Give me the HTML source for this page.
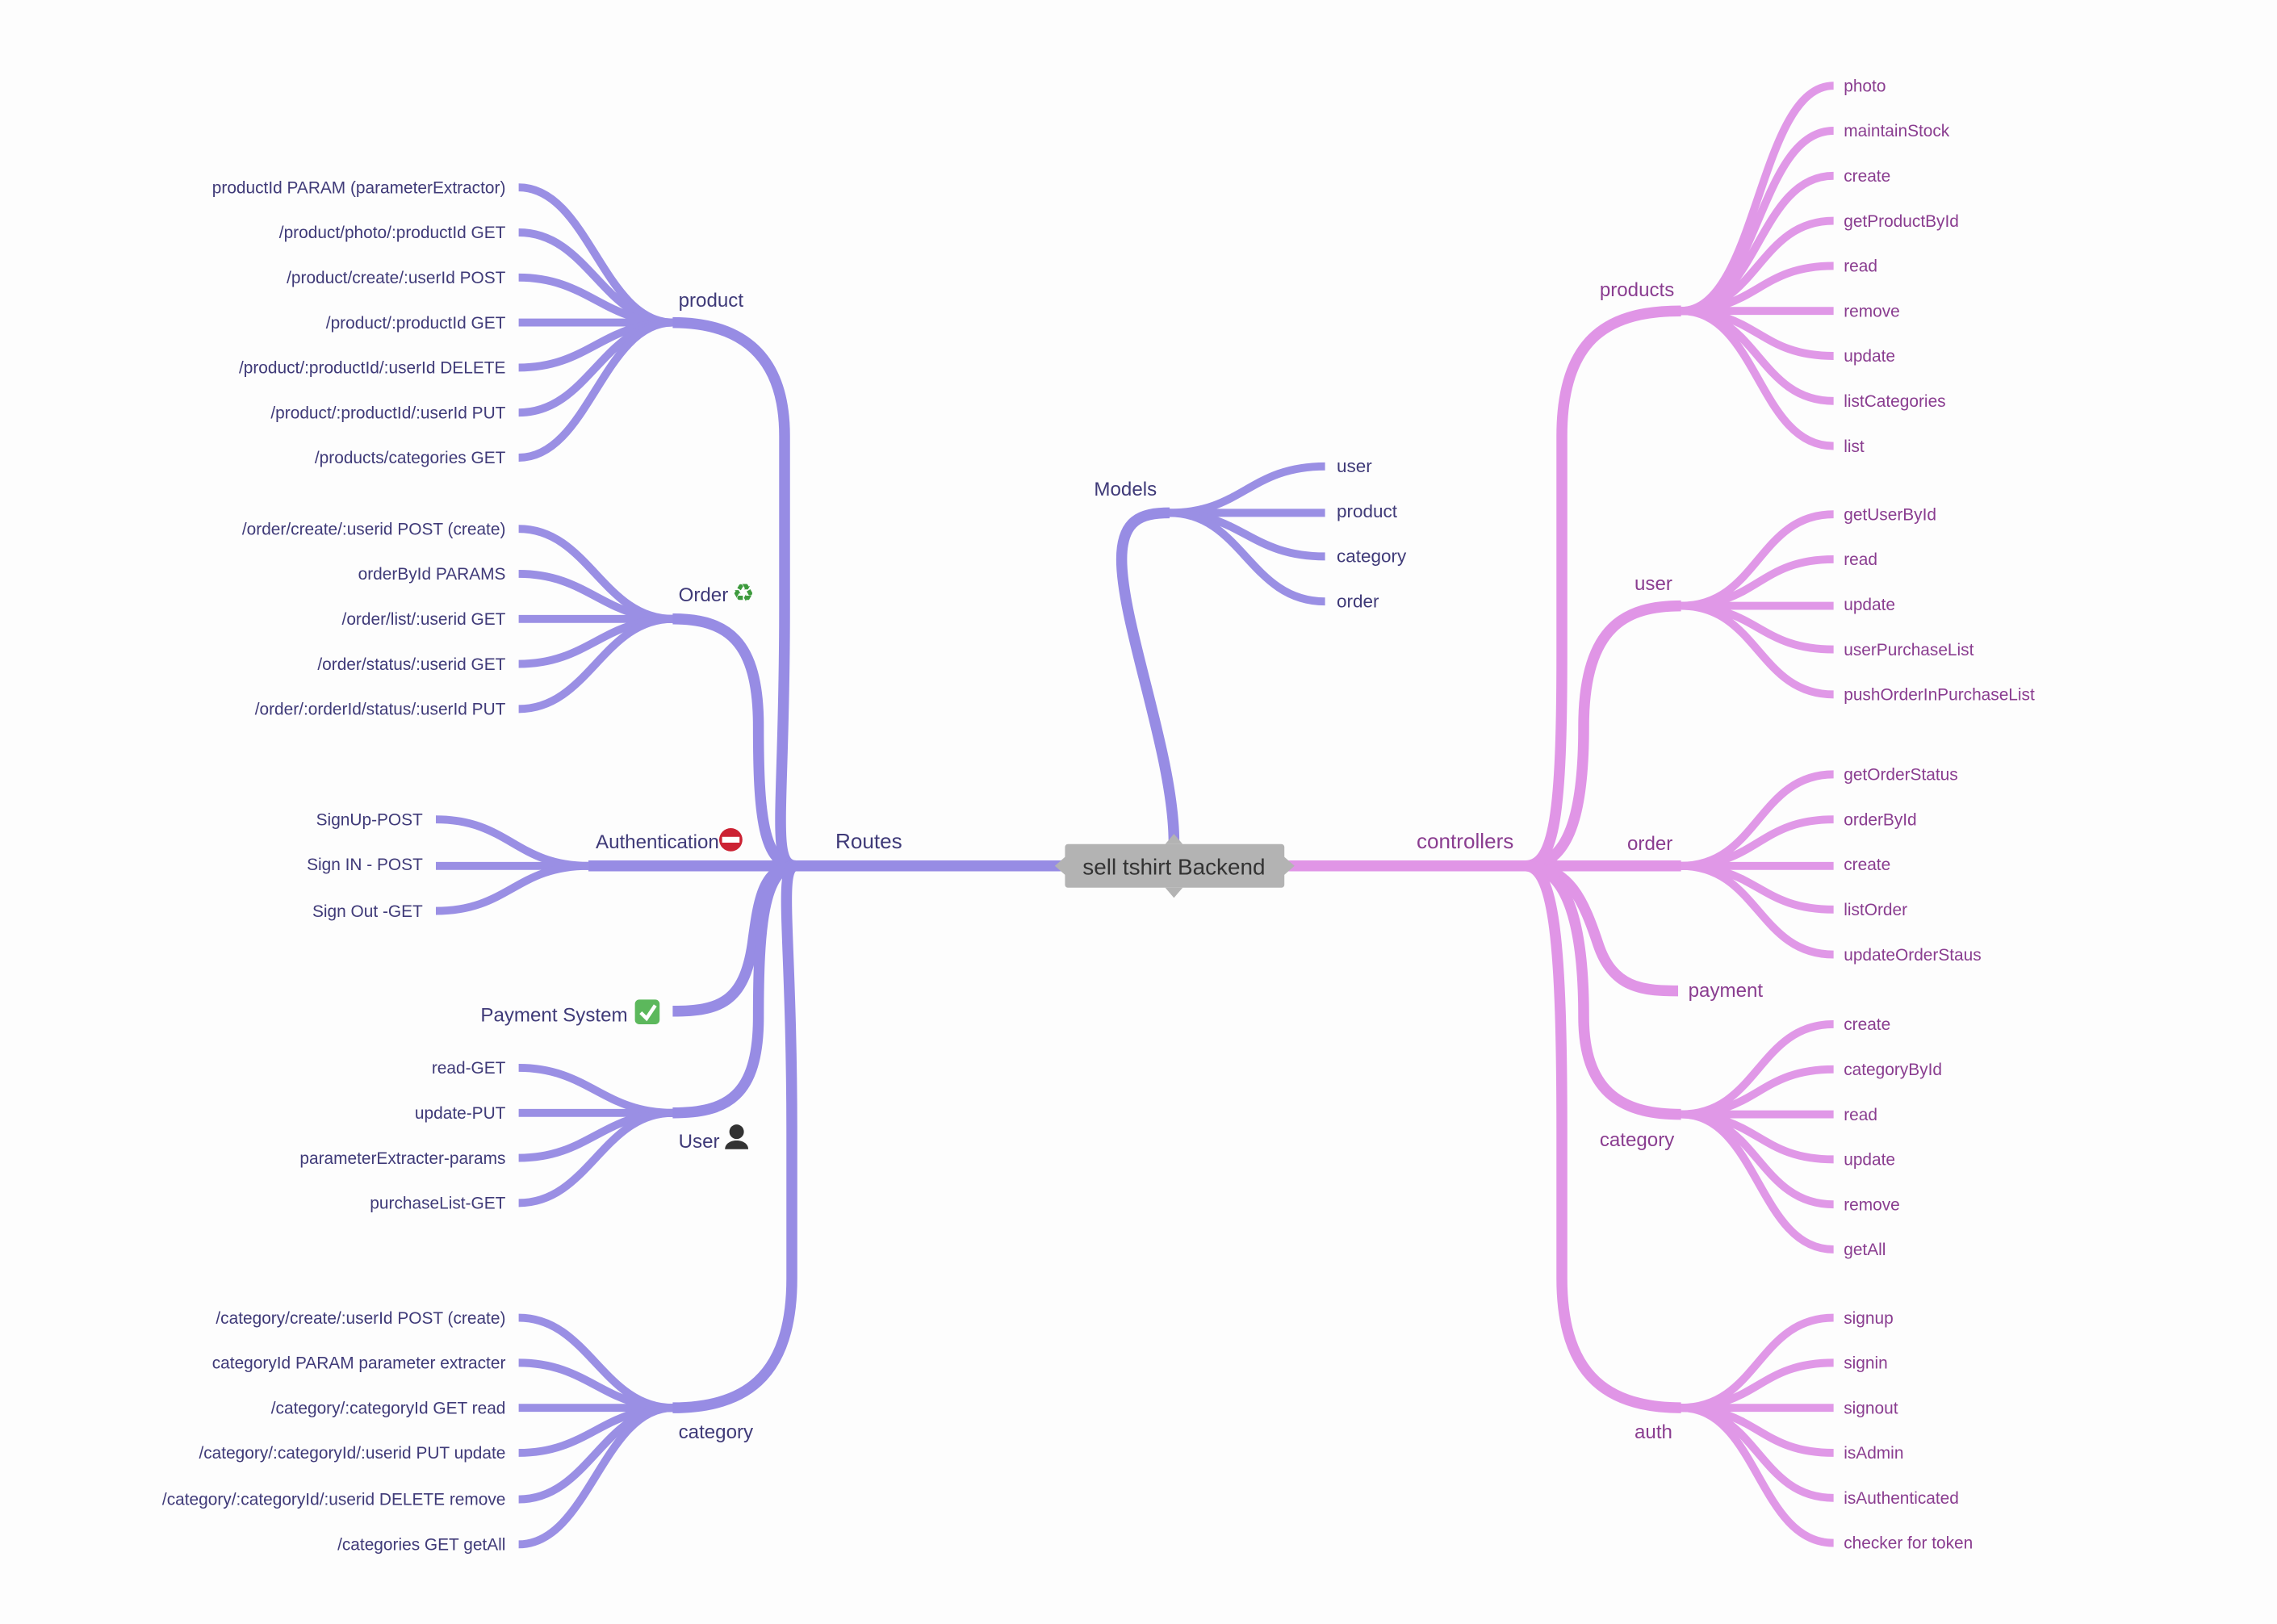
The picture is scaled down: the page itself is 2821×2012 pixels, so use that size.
<!DOCTYPE html>
<html><head><meta charset="utf-8"><style>
html,body{margin:0;padding:0;background:#fdfdfd;}
svg{display:block;}
text{font-family:"Liberation Sans",Arial,sans-serif;}
.lt{fill:#3f3a78;font-size:11.6px;text-anchor:end;}
.rt{fill:#8a3d90;font-size:11.6px;}
.lb{fill:#3f3a78;font-size:13.4px;}
.rb{fill:#8a3d90;font-size:13.4px;}
.L{stroke:#9a8fe4;fill:none;stroke-width:5.5;}
.LM{stroke:#978ce4;fill:none;stroke-width:7.5;}
.R{stroke:#e098e7;fill:none;stroke-width:5.5;}
.RM{stroke:#e095e6;fill:none;stroke-width:7.5;}
</style></head><body>
<svg width="2821" height="2012" viewBox="0 0 1567.2 1117.8" preserveAspectRatio="none">
<rect width="1567.2" height="1117.8" fill="#fdfdfd"/>

<!-- LEFT main -->
<path class="LM" d="M733,596 L548,596"/>
<path class="LM" d="M548,596 C530,596 540,560 540,420 L540,300 C540,240 505,222 463,222"/>
<path class="LM" d="M548,596 C525,596 522,560 522,500 C522,440 500,426 463,426"/>
<path class="LM" d="M548,596 L405,596"/>
<path class="LM" d="M548,596 C525,596 522,620 518,650 C512,690 495,696 463,696"/>
<path class="LM" d="M548,596 C525,596 522,640 522,700 C522,755 500,766 463,766"/>
<path class="LM" d="M548,596 C535,596 545,640 545,780 L545,880 C545,950 510,969 463,969"/>
<text x="575" y="584" class="lb" style="font-size:14.5px">Routes</text>

<g class="L">
<path d="M463,222 C415,222 405,129 357,129"/><path d="M463,222 C415,222 405,160 357,160"/><path d="M463,222 C415,222 405,191 357,191"/><path d="M463,222 L357,222"/><path d="M463,222 C415,222 405,253 357,253"/><path d="M463,222 C415,222 405,284 357,284"/><path d="M463,222 C415,222 405,315 357,315"/>
<path d="M463,426 C415,426 405,364 357,364"/><path d="M463,426 C415,426 405,395 357,395"/><path d="M463,426 L357,426"/><path d="M463,426 C415,426 405,457 357,457"/><path d="M463,426 C415,426 405,488 357,488"/>
<path d="M405,596 C355,596 350,564 300,564"/><path d="M405,596 L300,596"/><path d="M405,596 C355,596 350,627 300,627"/>
<path d="M463,766 C415,766 405,735 357,735"/><path d="M463,766 L357,766"/><path d="M463,766 C415,766 405,797 357,797"/><path d="M463,766 C415,766 405,828 357,828"/>
<path d="M463,969 C415,969 405,907 357,907"/><path d="M463,969 C415,969 405,938 357,938"/><path d="M463,969 L357,969"/><path d="M463,969 C415,969 405,1000 357,1000"/><path d="M463,969 C415,969 405,1032 357,1032"/><path d="M463,969 C415,969 405,1063 357,1063"/>
</g>
<text x="467" y="211" class="lb">product</text>
<text x="348" y="133" class="lt">productId PARAM (parameterExtractor)</text>
<text x="348" y="164" class="lt">/product/photo/:productId GET</text>
<text x="348" y="195" class="lt">/product/create/:userId POST</text>
<text x="348" y="226" class="lt">/product/:productId GET</text>
<text x="348" y="257" class="lt">/product/:productId/:userId DELETE</text>
<text x="348" y="288" class="lt">/product/:productId/:userId PUT</text>
<text x="348" y="319" class="lt">/products/categories GET</text>

<text x="467" y="414" class="lb">Order</text>
<text x="504" y="414" style="font-size:17px;fill:#3d9a3d">♻</text>
<text x="348" y="368" class="lt">/order/create/:userid POST (create)</text>
<text x="348" y="399" class="lt">orderById PARAMS</text>
<text x="348" y="430" class="lt">/order/list/:userid GET</text>
<text x="348" y="461" class="lt">/order/status/:userid GET</text>
<text x="348" y="492" class="lt">/order/:orderId/status/:userId PUT</text>

<text x="410" y="584" class="lb">Authentication</text>
<circle cx="503" cy="578" r="8" fill="#cc2233"/><rect x="497" y="576" width="12" height="4" fill="#fff"/>
<text x="291" y="568" class="lt">SignUp-POST</text>
<text x="291" y="599" class="lt">Sign IN - POST</text>
<text x="291" y="631" class="lt">Sign Out -GET</text>

<text x="432" y="703" class="lb" style="text-anchor:end">Payment System</text>
<rect x="437" y="688" width="17" height="17" rx="3" fill="#5cb85c"/>
<path d="M441,697 L445,701 L451,692" stroke="#fff" stroke-width="2.5" fill="none"/>

<text x="467" y="790" class="lb">User</text>
<circle cx="507" cy="779" r="5" fill="#333"/><path d="M499,791 C499,783 515,783 515,791 Z" fill="#333"/>
<text x="348" y="739" class="lt">read-GET</text>
<text x="348" y="770" class="lt">update-PUT</text>
<text x="348" y="801" class="lt">parameterExtracter-params</text>
<text x="348" y="832" class="lt">purchaseList-GET</text>

<text x="467" y="990" class="lb">category</text>
<text x="348" y="911" class="lt">/category/create/:userId POST (create)</text>
<text x="348" y="942" class="lt">categoryId PARAM parameter extracter</text>
<text x="348" y="973" class="lt">/category/:categoryId GET read</text>
<text x="348" y="1004" class="lt">/category/:categoryId/:userid PUT update</text>
<text x="348" y="1036" class="lt">/category/:categoryId/:userid DELETE remove</text>
<text x="348" y="1067" class="lt">/categories GET getAll</text>

<!-- Models -->
<path class="LM" d="M808,580 C808,520 772,430 772,385 C772,358 785,353 805,353"/>
<g class="L">
<path d="M805,353 C855,353 860,321 912,321"/><path d="M805,353 L912,353"/><path d="M805,353 C855,353 860,383 912,383"/><path d="M805,353 C855,353 860,414 912,414"/>
</g>
<text x="753" y="341" class="lb">Models</text>
<text x="920" y="325" class="lb" style="font-size:12.5px">user</text>
<text x="920" y="356" class="lb" style="font-size:12.5px">product</text>
<text x="920" y="387" class="lb" style="font-size:12.5px">category</text>
<text x="920" y="418" class="lb" style="font-size:12.5px">order</text>

<!-- RIGHT -->
<path class="RM" d="M884,596 L1050,596"/>
<path class="RM" d="M1050,596 C1070,596 1075,560 1075,450 L1075,300 C1075,230 1110,214 1157,214"/>
<path class="RM" d="M1050,596 C1080,596 1090,560 1090,500 C1090,430 1120,417 1157,417"/>
<path class="RM" d="M1050,596 L1157,596"/>
<path class="RM" d="M1050,596 C1080,596 1090,620 1100,650 C1110,680 1130,682 1155,682"/>
<path class="RM" d="M1050,596 C1080,596 1090,640 1090,700 C1090,755 1120,767 1157,767"/>
<path class="RM" d="M1050,596 C1070,596 1075,650 1075,780 L1075,880 C1075,950 1110,969 1157,969"/>
<text x="975" y="584" class="rb" style="font-size:14.5px">controllers</text>
<g class="R">
<path d="M1157,214 C1210,214 1210,59 1262,59"/><path d="M1157,214 C1210,214 1210,90 1262,90"/><path d="M1157,214 C1210,214 1210,121 1262,121"/><path d="M1157,214 C1210,214 1210,152 1262,152"/><path d="M1157,214 C1210,214 1210,183 1262,183"/><path d="M1157,214 L1262,214"/><path d="M1157,214 C1210,214 1210,245 1262,245"/><path d="M1157,214 C1210,214 1210,276 1262,276"/><path d="M1157,214 C1210,214 1210,307 1262,307"/>
<path d="M1157,417 C1210,417 1210,354 1262,354"/><path d="M1157,417 C1210,417 1210,385 1262,385"/><path d="M1157,417 L1262,417"/><path d="M1157,417 C1210,417 1210,447 1262,447"/><path d="M1157,417 C1210,417 1210,478 1262,478"/>
<path d="M1157,596 C1210,596 1210,533 1262,533"/><path d="M1157,596 C1210,596 1210,564 1262,564"/><path d="M1157,596 L1262,596"/><path d="M1157,596 C1210,596 1210,626 1262,626"/><path d="M1157,596 C1210,596 1210,657 1262,657"/>
<path d="M1157,767 C1210,767 1210,705 1262,705"/><path d="M1157,767 C1210,767 1210,736 1262,736"/><path d="M1157,767 L1262,767"/><path d="M1157,767 C1210,767 1210,798 1262,798"/><path d="M1157,767 C1210,767 1210,829 1262,829"/><path d="M1157,767 C1210,767 1210,860 1262,860"/>
<path d="M1157,969 C1210,969 1210,907 1262,907"/><path d="M1157,969 C1210,969 1210,938 1262,938"/><path d="M1157,969 L1262,969"/><path d="M1157,969 C1210,969 1210,1000 1262,1000"/><path d="M1157,969 C1210,969 1210,1031 1262,1031"/><path d="M1157,969 C1210,969 1210,1062 1262,1062"/>
</g>
<text x="1101" y="204" class="rb">products</text>
<text x="1125" y="406" class="rb">user</text>
<text x="1120" y="585" class="rb">order</text>
<text x="1162" y="686" class="rb">payment</text>
<text x="1101" y="789" class="rb">category</text>
<text x="1125" y="990" class="rb">auth</text>

<text x="1269" y="63" class="rt">photo</text>
<text x="1269" y="94" class="rt">maintainStock</text>
<text x="1269" y="125" class="rt">create</text>
<text x="1269" y="156" class="rt">getProductById</text>
<text x="1269" y="187" class="rt">read</text>
<text x="1269" y="218" class="rt">remove</text>
<text x="1269" y="249" class="rt">update</text>
<text x="1269" y="280" class="rt">listCategories</text>
<text x="1269" y="311" class="rt">list</text>

<text x="1269" y="358" class="rt">getUserById</text>
<text x="1269" y="389" class="rt">read</text>
<text x="1269" y="420" class="rt">update</text>
<text x="1269" y="451" class="rt">userPurchaseList</text>
<text x="1269" y="482" class="rt">pushOrderInPurchaseList</text>

<text x="1269" y="537" class="rt">getOrderStatus</text>
<text x="1269" y="568" class="rt">orderById</text>
<text x="1269" y="599" class="rt">create</text>
<text x="1269" y="630" class="rt">listOrder</text>
<text x="1269" y="661" class="rt">updateOrderStaus</text>

<text x="1269" y="709" class="rt">create</text>
<text x="1269" y="740" class="rt">categoryById</text>
<text x="1269" y="771" class="rt">read</text>
<text x="1269" y="802" class="rt">update</text>
<text x="1269" y="833" class="rt">remove</text>
<text x="1269" y="864" class="rt">getAll</text>

<text x="1269" y="911" class="rt">signup</text>
<text x="1269" y="942" class="rt">signin</text>
<text x="1269" y="973" class="rt">signout</text>
<text x="1269" y="1004" class="rt">isAdmin</text>
<text x="1269" y="1035" class="rt">isAuthenticated</text>
<text x="1269" y="1066" class="rt">checker for token</text>

<!-- center node -->
<path d="M808,574 L814,581 L802,581 Z" fill="#b3b3b3"/>
<path d="M808,618 L814,611 L802,611 Z" fill="#b3b3b3"/>
<path d="M726,596 L734,589 L734,603 Z" fill="#b3b3b3"/>
<path d="M891,596 L883,589 L883,603 Z" fill="#b3b3b3"/>
<rect x="733" y="581" width="151" height="30" rx="2" fill="#b3b3b3"/>
<text x="808" y="602" style="font-size:15.5px;fill:#333;text-anchor:middle">sell tshirt Backend</text>
</svg>
</body></html>
